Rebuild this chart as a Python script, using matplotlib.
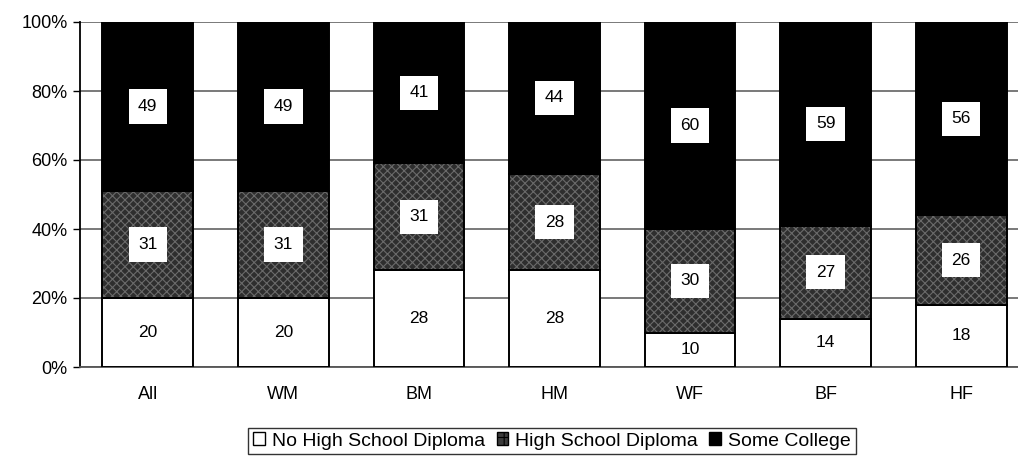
import matplotlib
matplotlib.use("Agg")
import matplotlib.pyplot as plt
import numpy as np
from matplotlib.patches import Patch

plt.rcParams['font.family'] = ['Liberation Sans', 'DejaVu Sans']
plt.rcParams['hatch.linewidth'] = 0.8

categories = ["All", "WM", "BM", "HM", "WF", "BF", "HF"]
no_diploma = [20, 20, 28, 28, 10, 14, 18]
hs_diploma = [31, 31, 31, 28, 30, 27, 26]
some_college = [49, 49, 41, 44, 60, 59, 56]
series_names = ["No High School Diploma", "High School Diploma", "Some College"]
y_ticks = [0, 20, 40, 60, 80, 100]

W, H = 1018, 469
fig = plt.figure(figsize=(W / 100, H / 100), dpi=100)
ax = fig.add_axes([80 / W, (H - 367) / H, (1029 - 80) / W, (367 - 22) / H])

x = np.arange(len(categories))
bw = 0.67
no_d = np.array(no_diploma)
hs_d = np.array(hs_diploma)
sc = np.array(some_college)

mid_face = "#2e2e2e"
mid_hatch = "#6a6a6a"

# bottom: no diploma (white)
ax.bar(x, no_d, bw, color="white", edgecolor="black", linewidth=1.4, zorder=3)
# middle: high school diploma (dark grainy texture)
ax.bar(x, hs_d, bw, bottom=no_d, color=mid_face, edgecolor=mid_hatch,
       hatch="xxxx", linewidth=0, zorder=3)
ax.bar(x, hs_d, bw, bottom=no_d, fill=False, edgecolor="black",
       linewidth=1.4, zorder=4)
# top: some college (black)
ax.bar(x, sc, bw, bottom=no_d + hs_d, color="black", edgecolor="black",
       linewidth=1.4, zorder=3)

box = dict(boxstyle="square,pad=0.55", fc="white", ec="none")
fs = 12.5
for i in range(len(categories)):
    ax.text(x[i], no_d[i] / 2, str(no_d[i]), ha="center", va="center",
            fontsize=fs, zorder=6)
    ax.text(x[i], no_d[i] + hs_d[i] / 2, str(hs_d[i]), ha="center",
            va="center", fontsize=fs, bbox=box, zorder=6)
    ax.text(x[i], no_d[i] + hs_d[i] + sc[i] / 2, str(sc[i]), ha="center",
            va="center", fontsize=fs, bbox=box, zorder=6)

ax.set_xlim(-0.5, len(categories) - 0.5)
ax.set_ylim(0, 100)
ax.set_yticks(y_ticks)
ax.set_yticklabels([f"{t}%" for t in y_ticks], fontsize=13)
ax.set_xticks(x)
ax.set_xticklabels(categories, fontsize=13)
ax.tick_params(axis="x", length=0, pad=14)
ax.tick_params(axis="y", length=5, width=1, direction="out", pad=4)
ax.yaxis.grid(True, color="#555555", linewidth=1.1)
ax.set_axisbelow(True)
for s in ["top", "right"]:
    ax.spines[s].set_visible(False)
ax.spines["left"].set_linewidth(1.3)
ax.spines["bottom"].set_linewidth(1.3)
ax.spines["bottom"].set_color("#555555")

handles = [
    Patch(facecolor="white", edgecolor="black", linewidth=1),
    Patch(facecolor="#3c3c3c", edgecolor="black", linewidth=1, hatch="++"),
    Patch(facecolor="black", edgecolor="black", linewidth=1),
]
leg = fig.legend(handles, series_names, loc="center", ncol=3,
                 bbox_to_anchor=(552 / W, (H - 441) / H), fontsize=14,
                 frameon=True, fancybox=False, edgecolor="black",
                 handlelength=0.6, handleheight=0.6, handletextpad=0.35,
                 columnspacing=0.6, borderpad=0.25)
leg.get_frame().set_linewidth(1)

fig.savefig("out.png", dpi=100)
